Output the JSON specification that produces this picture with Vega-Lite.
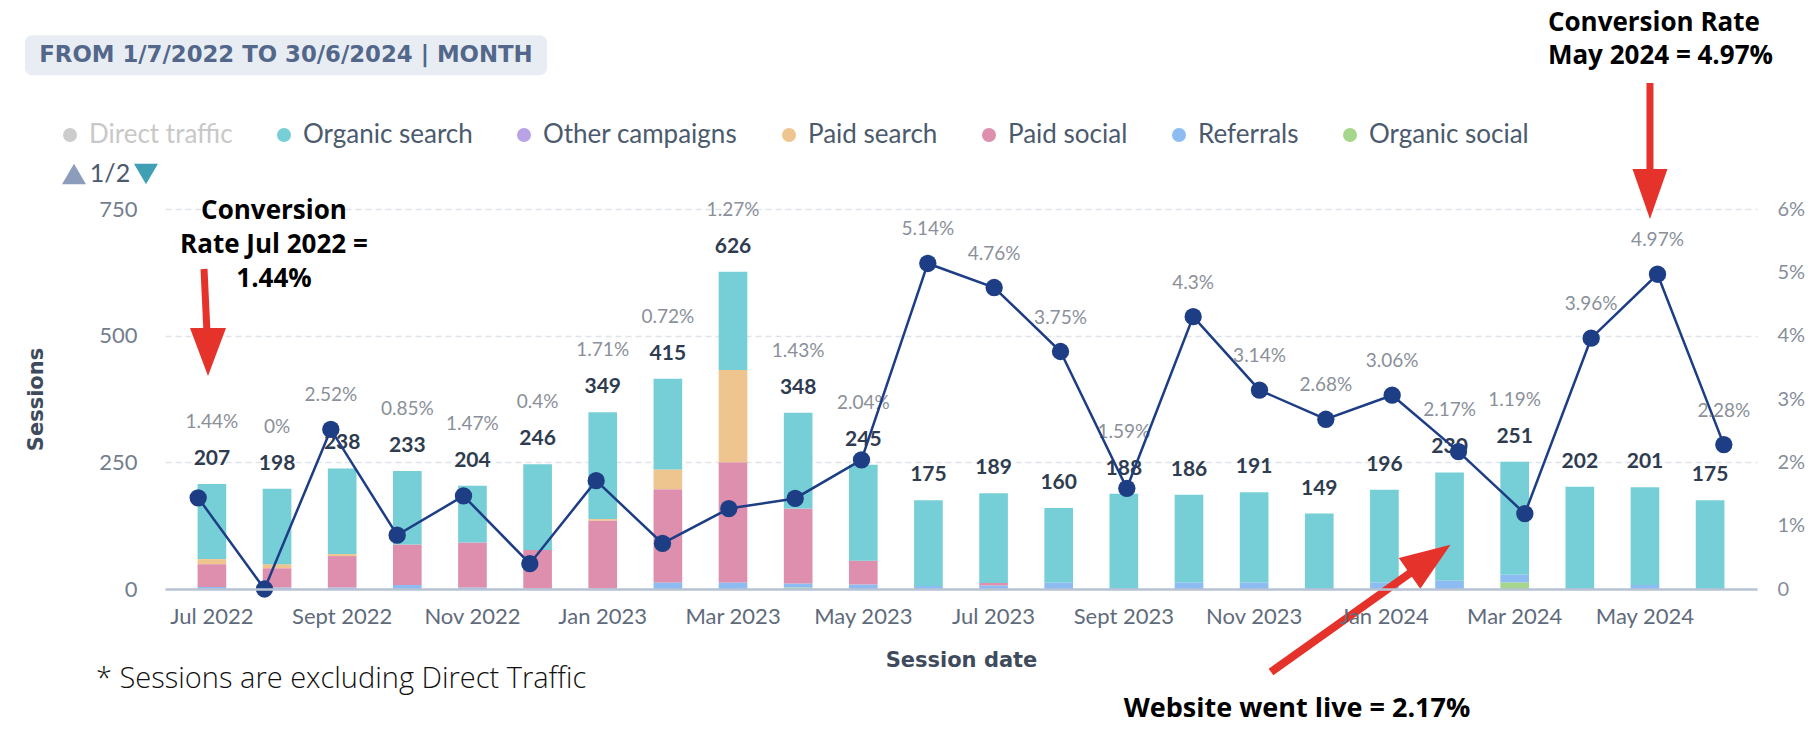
{
  "$schema": "https://vega.github.io/schema/vega-lite/v6.json",
  "width": 1592,
  "height": 380,
  "autosize": {"type": "none"},
  "padding": {"left": 165, "top": 209, "right": 59, "bottom": 141},
  "background": "white",
  "config": {"view": {"stroke": null}, "font": "Lato"},
  "datasets": {
    "sourceOrder": [
      {"source": "Organic social", "stackRank": 1},
      {"source": "Referrals", "stackRank": 2},
      {"source": "Paid social", "stackRank": 3},
      {"source": "Paid search", "stackRank": 4},
      {"source": "Other campaigns", "stackRank": 5},
      {"source": "Organic search", "stackRank": 6},
      {"source": "Direct traffic", "stackRank": 7}
    ],
    "sources": [
      {"month": "Jul 2022", "source": "Referrals", "sessions": 4},
      {"month": "Jul 2022", "source": "Paid social", "sessions": 45},
      {"month": "Jul 2022", "source": "Paid search", "sessions": 10},
      {"month": "Jul 2022", "source": "Organic search", "sessions": 148},
      {"month": "Aug 2022", "source": "Referrals", "sessions": 3},
      {"month": "Aug 2022", "source": "Paid social", "sessions": 38},
      {"month": "Aug 2022", "source": "Paid search", "sessions": 8},
      {"month": "Aug 2022", "source": "Organic search", "sessions": 149},
      {"month": "Sept 2022", "source": "Referrals", "sessions": 3},
      {"month": "Sept 2022", "source": "Paid social", "sessions": 62},
      {"month": "Sept 2022", "source": "Paid search", "sessions": 4},
      {"month": "Sept 2022", "source": "Organic search", "sessions": 169},
      {"month": "Oct 2022", "source": "Referrals", "sessions": 8},
      {"month": "Oct 2022", "source": "Paid social", "sessions": 80},
      {"month": "Oct 2022", "source": "Organic search", "sessions": 145},
      {"month": "Nov 2022", "source": "Referrals", "sessions": 3},
      {"month": "Nov 2022", "source": "Paid social", "sessions": 89},
      {"month": "Nov 2022", "source": "Organic search", "sessions": 112},
      {"month": "Dec 2022", "source": "Referrals", "sessions": 1},
      {"month": "Dec 2022", "source": "Paid social", "sessions": 76},
      {"month": "Dec 2022", "source": "Organic search", "sessions": 169},
      {"month": "Jan 2023", "source": "Referrals", "sessions": 1},
      {"month": "Jan 2023", "source": "Paid social", "sessions": 134},
      {"month": "Jan 2023", "source": "Paid search", "sessions": 3},
      {"month": "Jan 2023", "source": "Organic search", "sessions": 211},
      {"month": "Feb 2023", "source": "Referrals", "sessions": 13},
      {"month": "Feb 2023", "source": "Paid social", "sessions": 184},
      {"month": "Feb 2023", "source": "Paid search", "sessions": 39},
      {"month": "Feb 2023", "source": "Organic search", "sessions": 179},
      {"month": "Mar 2023", "source": "Referrals", "sessions": 13},
      {"month": "Mar 2023", "source": "Paid social", "sessions": 237},
      {"month": "Mar 2023", "source": "Paid search", "sessions": 182},
      {"month": "Mar 2023", "source": "Organic search", "sessions": 194},
      {"month": "Apr 2023", "source": "Organic social", "sessions": 3},
      {"month": "Apr 2023", "source": "Referrals", "sessions": 8},
      {"month": "Apr 2023", "source": "Paid social", "sessions": 148},
      {"month": "Apr 2023", "source": "Organic search", "sessions": 189},
      {"month": "May 2023", "source": "Referrals", "sessions": 9},
      {"month": "May 2023", "source": "Paid social", "sessions": 47},
      {"month": "May 2023", "source": "Organic search", "sessions": 189},
      {"month": "Jun 2023", "source": "Referrals", "sessions": 6},
      {"month": "Jun 2023", "source": "Organic search", "sessions": 169},
      {"month": "Jul 2023", "source": "Referrals", "sessions": 7},
      {"month": "Jul 2023", "source": "Paid social", "sessions": 5},
      {"month": "Jul 2023", "source": "Organic search", "sessions": 177},
      {"month": "Aug 2023", "source": "Referrals", "sessions": 13},
      {"month": "Aug 2023", "source": "Organic search", "sessions": 147},
      {"month": "Sept 2023", "source": "Referrals", "sessions": 2},
      {"month": "Sept 2023", "source": "Organic search", "sessions": 186},
      {"month": "Oct 2023", "source": "Referrals", "sessions": 13},
      {"month": "Oct 2023", "source": "Organic search", "sessions": 173},
      {"month": "Nov 2023", "source": "Referrals", "sessions": 13},
      {"month": "Nov 2023", "source": "Organic search", "sessions": 178},
      {"month": "Dec 2023", "source": "Referrals", "sessions": 2},
      {"month": "Dec 2023", "source": "Organic search", "sessions": 147},
      {"month": "Jan 2024", "source": "Referrals", "sessions": 13},
      {"month": "Jan 2024", "source": "Organic search", "sessions": 183},
      {"month": "Feb 2024", "source": "Referrals", "sessions": 17},
      {"month": "Feb 2024", "source": "Organic search", "sessions": 213},
      {"month": "Mar 2024", "source": "Organic social", "sessions": 13},
      {"month": "Mar 2024", "source": "Referrals", "sessions": 15},
      {"month": "Mar 2024", "source": "Organic search", "sessions": 223},
      {"month": "Apr 2024", "source": "Referrals", "sessions": 2},
      {"month": "Apr 2024", "source": "Organic search", "sessions": 200},
      {"month": "May 2024", "source": "Referrals", "sessions": 8},
      {"month": "May 2024", "source": "Organic search", "sessions": 193},
      {"month": "Jun 2024", "source": "Referrals", "sessions": 2},
      {"month": "Jun 2024", "source": "Organic search", "sessions": 173}
    ],
    "monthly": [
      {"month": "Jul 2022", "total": 207, "rate": 0.0144},
      {"month": "Aug 2022", "total": 198, "rate": 0},
      {"month": "Sept 2022", "total": 238, "rate": 0.0252},
      {"month": "Oct 2022", "total": 233, "rate": 0.0085},
      {"month": "Nov 2022", "total": 204, "rate": 0.0147},
      {"month": "Dec 2022", "total": 246, "rate": 0.004},
      {"month": "Jan 2023", "total": 349, "rate": 0.0171},
      {"month": "Feb 2023", "total": 415, "rate": 0.0072},
      {"month": "Mar 2023", "total": 626, "rate": 0.0127},
      {"month": "Apr 2023", "total": 348, "rate": 0.0143},
      {"month": "May 2023", "total": 245, "rate": 0.0204},
      {"month": "Jun 2023", "total": 175, "rate": 0.0514},
      {"month": "Jul 2023", "total": 189, "rate": 0.0476},
      {"month": "Aug 2023", "total": 160, "rate": 0.0375},
      {"month": "Sept 2023", "total": 188, "rate": 0.0159},
      {"month": "Oct 2023", "total": 186, "rate": 0.043},
      {"month": "Nov 2023", "total": 191, "rate": 0.0314},
      {"month": "Dec 2023", "total": 149, "rate": 0.0268},
      {"month": "Jan 2024", "total": 196, "rate": 0.0306},
      {"month": "Feb 2024", "total": 230, "rate": 0.0217},
      {"month": "Mar 2024", "total": 251, "rate": 0.0119},
      {"month": "Apr 2024", "total": 202, "rate": 0.0396},
      {"month": "May 2024", "total": 201, "rate": 0.0497},
      {"month": "Jun 2024", "total": 175, "rate": 0.0228}
    ]
  },
  "resolve": {"scale": {"x": "independent", "y": "independent"}},
  "layer": [
    {
      "layer": [
        {
          "data": {"name": "sources"},
          "transform": [
            {"lookup": "source", "from": {"data": {"name": "sourceOrder"}, "key": "source", "fields": ["stackRank"]}}
          ],
          "mark": {"type": "bar"},
          "encoding": {
            "x": {
              "field": "month", "type": "ordinal",
              "scale": {"domain": ["Jul 2022","Aug 2022","Sept 2022","Oct 2022","Nov 2022","Dec 2022","Jan 2023","Feb 2023","Mar 2023","Apr 2023","May 2023","Jun 2023","Jul 2023","Aug 2023","Sept 2023","Oct 2023","Nov 2023","Dec 2023","Jan 2024","Feb 2024","Mar 2024","Apr 2024","May 2024","Jun 2024"], "paddingInner": 0.56, "paddingOuter": 0.5},
              "title": "Session date",
              "axis": {
                "values": ["Jul 2022","Sept 2022","Nov 2022","Jan 2023","Mar 2023","May 2023","Jul 2023","Sept 2023","Nov 2023","Jan 2024","Mar 2024","May 2024"],
                "labelAngle": 0, "labelFont": "Lato", "labelFontSize": 22, "labelColor": "#5f6b7b", "labelPadding": 17,
                "ticks": false, "grid": false, "domainColor": "#b7c3d3", "domainWidth": 2.5, "zindex": 1,
                "titleFont": "DejaVu Sans", "titleFontSize": 21, "titleFontWeight": "bold", "titleColor": "#3f4b5c", "titlePadding": 22
              }
            },
            "y": {
              "field": "sessions", "type": "quantitative", "stack": "zero",
              "scale": {"domain": [0, 750], "nice": false},
              "title": "Sessions",
              "axis": {
                "values": [0, 250, 500, 750], "grid": true, "gridDash": [6, 4], "gridColor": "#dfe4ea", "gridWidth": 1.5,
                "domain": false, "ticks": false, "labelFont": "Lato", "labelFontSize": 22, "labelColor": "#737e8d", "labelPadding": 28,
                "titleFont": "DejaVu Sans", "titleFontSize": 21, "titleFontWeight": "bold", "titleColor": "#3f4b5c", "titlePadding": 52
              }
            },
            "color": {
              "field": "source", "type": "nominal",
              "scale": {
                "domain": ["Direct traffic","Organic search","Other campaigns","Paid search","Paid social","Referrals","Organic social"],
                "range": ["#cccccc","#76cfd6","#b9a3e6","#efc58f","#de8fae","#8dbcf3","#a6d58c"]
              },
              "legend": {
                "orient": "none", "legendX": -108, "legendY": -87, "direction": "horizontal", "title": null,
                "symbolType": "circle", "symbolSize": 196, "symbolStrokeWidth": 0, "symbolOpacity": 1,
                "labelFont": "Lato", "labelFontSize": 26, "labelColor": "#4b5a6d", "labelOffset": 6,
                "columnPadding": 38, "labelLimit": 400,
                "encode": {"labels": {"update": {"fill": {"signal": "datum.label === 'Direct traffic' ? '#c8c8c8' : '#4b5a6d'"}}}}
              }
            },
            "order": {"field": "stackRank", "type": "quantitative", "sort": "ascending"}
          }
        },
        {
          "data": {"name": "monthly"},
          "mark": {"type": "text", "dy": -25, "fontWeight": "bold", "fontSize": 21, "color": "#2f3c4f", "baseline": "middle"},
          "encoding": {
            "x": {"field": "month", "type": "ordinal"},
            "y": {"field": "total", "type": "quantitative"},
            "text": {"field": "total", "type": "quantitative"}
          }
        },
        {
          "data": {"name": "monthly"},
          "transform": [{"filter": "datum.rate * 12500 <= datum.total + 59"}],
          "mark": {"type": "text", "dy": -62, "fontSize": 19, "color": "#8a9099", "baseline": "middle"},
          "encoding": {
            "x": {"field": "month", "type": "ordinal"},
            "y": {"field": "total", "type": "quantitative"},
            "text": {"field": "rate", "type": "quantitative", "format": ".2~%"}
          }
        }
      ]
    },
    {
      "data": {"name": "monthly"},
      "encoding": {
        "x": {
          "field": "month", "type": "ordinal",
          "scale": {"domain": ["Jul 2022","Aug 2022","Sept 2022","Oct 2022","Nov 2022","Dec 2022","Jan 2023","Feb 2023","Mar 2023","Apr 2023","May 2023","Jun 2023","Jul 2023","Aug 2023","Sept 2023","Oct 2023","Nov 2023","Dec 2023","Jan 2024","Feb 2024","Mar 2024","Apr 2024","May 2024","Jun 2024"], "paddingInner": 0.56, "paddingOuter": 0.5},
          "axis": null
        },
        "y": {
          "field": "rate", "type": "quantitative",
          "scale": {"domain": [0, 0.06], "nice": false},
          "axis": {
            "orient": "right", "title": null, "values": [0, 0.01, 0.02, 0.03, 0.04, 0.05, 0.06],
            "labelExpr": "datum.value === 0 ? '0' : format(datum.value, '.0%')",
            "grid": false, "domain": false, "ticks": false, "labelFont": "Lato", "labelFontSize": 20, "labelColor": "#868e99", "labelPadding": 20
          }
        }
      },
      "layer": [
        {"mark": {"type": "line", "color": "#1d3d85", "strokeWidth": 2.5}},
        {"mark": {"type": "point", "filled": true, "size": 300, "color": "#1d3d85", "opacity": 1}},
        {
          "transform": [{"filter": "datum.rate * 12500 > datum.total + 59"}],
          "mark": {"type": "text", "dy": -34, "fontSize": 19, "color": "#8a9099", "baseline": "middle"},
          "encoding": {"text": {"field": "rate", "type": "quantitative", "format": ".2~%"}}
        }
      ]
    },
    {
      "layer": [
        {
          "data": {"values": [{"t": "box"}]},
          "mark": {"type": "rect", "color": "#e8edf3", "cornerRadius": 7},
          "encoding": {
            "x": {"datum": -2.869, "type": "quantitative", "scale": {"domain": [-0.72, 23.72], "nice": false, "zero": false}, "axis": null},
            "x2": {"datum": 5.144},
            "y": {"datum": 1014, "type": "quantitative", "scale": {"domain": [0, 750], "nice": false, "zero": false}, "axis": null},
            "y2": {"datum": 1093}
          }
        },
        {
          "data": {"values": [{"t": "FROM 1/7/2022 TO 30/6/2024 | MONTH"}]},
          "mark": {"type": "text", "font": "DejaVu Sans", "fontSize": 22.8, "fontWeight": "bold", "color": "#52678a", "align": "center", "baseline": "middle"},
          "encoding": {
            "x": {"datum": 1.137, "type": "quantitative"},
            "y": {"datum": 1054, "type": "quantitative"},
            "text": {"field": "t"}
          }
        },
        {
          "data": {"values": [{"t": "1/2"}]},
          "mark": {"type": "text", "fontSize": 25, "color": "#4b5a6d", "align": "center", "baseline": "middle"},
          "encoding": {
            "x": {"datum": -1.564, "type": "quantitative"},
            "y": {"datum": 819, "type": "quantitative"},
            "text": {"field": "t"}
          }
        },
        {
          "data": {"values": [{"t": "up"}]},
          "mark": {"type": "point", "filled": true, "opacity": 1, "color": "#8b9dba", "size": 576, "shape": "M 0 -0.85 L 1 0.85 L -1 0.85 Z"},
          "encoding": {
            "x": {"datum": -2.117, "type": "quantitative"},
            "y": {"datum": 819, "type": "quantitative"}
          }
        },
        {
          "data": {"values": [{"t": "down"}]},
          "mark": {"type": "point", "filled": true, "opacity": 1, "color": "#3f9fb3", "size": 576, "shape": "M 0 0.85 L 1 -0.85 L -1 -0.85 Z"},
          "encoding": {
            "x": {"datum": -1.012, "type": "quantitative"},
            "y": {"datum": 819, "type": "quantitative"}
          }
        },
        {
          "data": {"values": [{"t": "Conversion\nRate Jul 2022 =\n1.44%"}]},
          "mark": {"type": "text", "font": "Open Sans", "fontSize": 26, "fontWeight": "bold", "color": "#000000", "align": "center", "baseline": "middle", "lineBreak": "\n", "lineHeight": 34},
          "encoding": {
            "x": {"datum": 0.953, "type": "quantitative"},
            "y": {"datum": 746, "type": "quantitative"},
            "text": {"field": "t"}
          }
        },
        {
          "data": {"values": [{"t": "Conversion Rate\nMay 2024 = 4.97%"}]},
          "mark": {"type": "text", "font": "Open Sans", "fontSize": 26, "fontWeight": "bold", "color": "#000000", "align": "left", "baseline": "middle", "lineBreak": "\n", "lineHeight": 33},
          "encoding": {
            "x": {"datum": 20.51, "type": "quantitative"},
            "y": {"datum": 1117, "type": "quantitative"},
            "text": {"field": "t"}
          }
        },
        {
          "data": {"values": [{"t": "Website went live = 2.17%"}]},
          "mark": {"type": "text", "font": "Open Sans", "fontSize": 27, "fontWeight": "bold", "color": "#000000", "align": "center", "baseline": "middle"},
          "encoding": {
            "x": {"datum": 16.658, "type": "quantitative"},
            "y": {"datum": -236.8, "type": "quantitative"},
            "text": {"field": "t"}
          }
        },
        {
          "data": {"values": [{"t": "* Sessions are excluding Direct Traffic"}]},
          "mark": {"type": "text", "font": "Open Sans", "fontSize": 29, "fontWeight": 300, "color": "#111111", "align": "left", "baseline": "middle"},
          "encoding": {
            "x": {"datum": -1.779, "type": "quantitative"},
            "y": {"datum": -177.6, "type": "quantitative"},
            "text": {"field": "t"}
          }
        },
        {
          "data": {"values": [{"t": "arrow1"}]},
          "mark": {"type": "rule", "color": "#e5322a", "strokeWidth": 7},
          "encoding": {
            "x": {"datum": -0.121, "type": "quantitative"},
            "x2": {"datum": -0.074},
            "y": {"datum": 631.6, "type": "quantitative"},
            "y2": {"datum": 501.3}
          }
        },
        {
          "data": {"values": [{"t": "head1"}]},
          "mark": {"type": "point", "filled": true, "opacity": 1, "color": "#e5322a", "size": 2304, "shape": "M -0.75 -1 L 0.75 -1 L 0 1 Z"},
          "encoding": {
            "x": {"datum": -0.06, "type": "quantitative"},
            "y": {"datum": 467.8, "type": "quantitative"}
          }
        },
        {
          "data": {"values": [{"t": "arrow2"}]},
          "mark": {"type": "rule", "color": "#e5322a", "strokeWidth": 7},
          "encoding": {
            "x": {"datum": 22.077, "type": "quantitative"},
            "x2": {"datum": 22.077},
            "y": {"datum": 998.7, "type": "quantitative"},
            "y2": {"datum": 800}
          }
        },
        {
          "data": {"values": [{"t": "head2"}]},
          "mark": {"type": "point", "filled": true, "opacity": 1, "color": "#e5322a", "size": 2500, "shape": "M -0.7 -1 L 0.7 -1 L 0 1 Z"},
          "encoding": {
            "x": {"datum": 22.077, "type": "quantitative"},
            "y": {"datum": 779.6, "type": "quantitative"}
          }
        },
        {
          "data": {"values": [{"t": "arrow3"}]},
          "mark": {"type": "rule", "color": "#e5322a", "strokeWidth": 8},
          "encoding": {
            "x": {"datum": 16.259, "type": "quantitative"},
            "x2": {"datum": 18.439},
            "y": {"datum": -163.8, "type": "quantitative"},
            "y2": {"datum": 35.5}
          }
        },
        {
          "data": {"values": [{"t": "head3"}]},
          "mark": {"type": "point", "filled": true, "opacity": 1, "color": "#e5322a", "size": 2500, "angle": 55, "shape": "M -0.75 1 L 0.75 1 L 0 -1 Z"},
          "encoding": {
            "x": {"datum": 18.7, "type": "quantitative"},
            "y": {"datum": 59.2, "type": "quantitative"}
          }
        }
      ]
    }
  ]
}
